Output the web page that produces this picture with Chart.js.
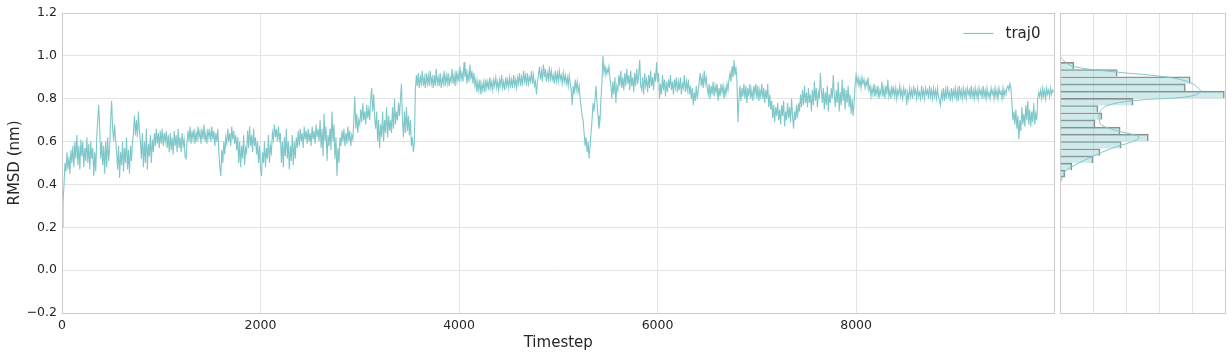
<!DOCTYPE html>
<html><head><meta charset="utf-8">
<script src="https://cdn.jsdelivr.net/npm/chart.js@4"></script>
<style>
html,body{margin:0;padding:0;background:#fff;}
#wrap{position:relative;width:1232px;height:358px;overflow:hidden;}
#main{position:absolute;left:0;top:0;}
#hist{position:absolute;left:1055px;top:0;}
</style></head><body>
<div id="wrap">
<canvas id="main" width="1056" height="358"></canvas>
<canvas id="hist" width="177" height="358"></canvas>
</div>
<script>
// ---- data: RMSD (nm) sampled every STEP timesteps, 500 timesteps per array ----
const STEP = 10;
const rmsd_00 = [0.20,0.31,0.40,0.50,0.46,0.55,0.47,0.53,0.45,0.56, 0.50,0.58,0.48,0.60,0.52,0.63,0.49,0.58,0.47,0.61, 0.53,0.60,0.48,0.57,0.51,0.62,0.50,0.59,0.47,0.60, 0.52,0.57,0.44,0.55,0.46,0.62,0.70,0.77,0.66,0.52, 0.60,0.49,0.58,0.45,0.60,0.48,0.62,0.51,0.57,0.70];
const rmsd_01 = [0.79,0.66,0.60,0.68,0.61,0.55,0.47,0.58,0.43,0.55, 0.49,0.60,0.46,0.57,0.50,0.62,0.47,0.56,0.45,0.58, 0.51,0.60,0.64,0.72,0.63,0.70,0.62,0.74,0.65,0.60, 0.52,0.64,0.48,0.60,0.50,0.66,0.47,0.59,0.53,0.63, 0.50,0.61,0.55,0.64,0.58,0.66,0.59,0.64,0.57,0.65];
const rmsd_02 = [0.59,0.66,0.58,0.64,0.60,0.65,0.57,0.63,0.55,0.64, 0.56,0.62,0.54,0.65,0.58,0.63,0.55,0.66,0.57,0.62, 0.55,0.64,0.58,0.61,0.53,0.52,0.60,0.65,0.60,0.67, 0.59,0.65,0.61,0.66,0.59,0.64,0.60,0.67,0.62,0.65, 0.59,0.66,0.61,0.68,0.60,0.64,0.59,0.66,0.62,0.65];
const rmsd_03 = [0.60,0.67,0.61,0.65,0.58,0.64,0.60,0.66,0.55,0.48, 0.44,0.56,0.50,0.60,0.54,0.62,0.59,0.66,0.60,0.64, 0.58,0.67,0.61,0.65,0.59,0.63,0.56,0.62,0.50,0.60, 0.48,0.58,0.52,0.63,0.49,0.57,0.55,0.65,0.57,0.67, 0.58,0.63,0.55,0.66,0.58,0.62,0.54,0.60,0.50,0.58];
const rmsd_04 = [0.47,0.44,0.55,0.50,0.60,0.48,0.57,0.52,0.63,0.50, 0.58,0.55,0.64,0.61,0.68,0.62,0.66,0.60,0.67,0.61, 0.64,0.50,0.60,0.48,0.62,0.53,0.66,0.52,0.60,0.47, 0.58,0.51,0.63,0.49,0.60,0.52,0.62,0.57,0.65,0.58, 0.66,0.60,0.64,0.57,0.67,0.61,0.65,0.59,0.66,0.60];
const rmsd_05 = [0.64,0.58,0.67,0.61,0.65,0.59,0.68,0.62,0.66,0.60, 0.70,0.57,0.66,0.53,0.73,0.60,0.67,0.51,0.63,0.58, 0.66,0.56,0.74,0.60,0.68,0.52,0.62,0.44,0.57,0.50, 0.62,0.58,0.65,0.60,0.66,0.58,0.64,0.59,0.67,0.60, 0.65,0.58,0.63,0.61,0.70,0.81,0.66,0.73,0.64,0.70];
const rmsd_06 = [0.68,0.75,0.69,0.78,0.70,0.74,0.68,0.77,0.71,0.75, 0.70,0.80,0.85,0.74,0.82,0.71,0.66,0.74,0.60,0.70, 0.57,0.68,0.62,0.74,0.60,0.70,0.64,0.76,0.62,0.72, 0.65,0.70,0.64,0.76,0.66,0.80,0.68,0.74,0.70,0.78, 0.72,0.80,0.87,0.70,0.62,0.74,0.64,0.76,0.65,0.72];
const rmsd_07 = [0.63,0.70,0.58,0.62,0.55,0.60,0.84,0.91,0.86,0.92, 0.85,0.90,0.87,0.93,0.86,0.90,0.85,0.92,0.87,0.91, 0.86,0.93,0.87,0.90,0.85,0.91,0.86,0.94,0.87,0.90, 0.86,0.92,0.85,0.90,0.87,0.93,0.86,0.91,0.87,0.92, 0.86,0.90,0.88,0.94,0.87,0.91,0.86,0.93,0.88,0.92];
const rmsd_08 = [0.88,0.95,0.89,0.92,0.88,0.97,0.90,0.94,0.87,0.92, 0.88,0.96,0.89,0.93,0.87,0.92,0.86,0.89,0.83,0.88, 0.84,0.89,0.82,0.87,0.84,0.88,0.83,0.89,0.85,0.88, 0.84,0.90,0.85,0.88,0.84,0.89,0.86,0.90,0.85,0.88, 0.84,0.89,0.86,0.91,0.85,0.88,0.84,0.90,0.86,0.89];
const rmsd_09 = [0.85,0.90,0.86,0.89,0.85,0.91,0.86,0.89,0.85,0.90, 0.87,0.92,0.86,0.90,0.87,0.93,0.88,0.91,0.86,0.92, 0.87,0.90,0.88,0.93,0.87,0.91,0.86,0.88,0.82,0.88, 0.91,0.95,0.89,0.93,0.88,0.96,0.90,0.94,0.88,0.92, 0.89,0.95,0.88,0.93,0.89,0.91,0.87,0.93,0.88,0.92];
const rmsd_10 = [0.88,0.93,0.89,0.91,0.87,0.92,0.88,0.91,0.87,0.90, 0.86,0.91,0.87,0.84,0.77,0.86,0.82,0.89,0.84,0.88, 0.83,0.86,0.80,0.76,0.72,0.70,0.64,0.58,0.62,0.55, 0.60,0.52,0.58,0.64,0.70,0.78,0.74,0.80,0.86,0.78, 0.72,0.66,0.70,0.80,0.88,1.00,0.92,0.95,0.91,0.94];
const rmsd_11 = [0.92,0.95,0.90,0.86,0.80,0.88,0.82,0.90,0.78,0.86, 0.84,0.91,0.86,0.93,0.85,0.90,0.84,0.92,0.86,0.94, 0.87,0.91,0.84,0.93,0.86,0.90,0.83,0.92,0.86,0.94, 0.87,0.91,0.98,0.86,0.84,0.90,0.82,0.92,0.86,0.89, 0.83,0.91,0.85,0.93,0.86,0.90,0.84,0.92,0.88,0.97];
const rmsd_12 = [0.88,0.92,0.80,0.87,0.82,0.91,0.84,0.89,0.81,0.88, 0.83,0.89,0.85,0.91,0.84,0.88,0.82,0.89,0.85,0.90, 0.83,0.88,0.84,0.90,0.82,0.87,0.85,0.91,0.83,0.88, 0.84,0.89,0.82,0.86,0.80,0.85,0.77,0.83,0.79,0.86, 0.80,0.84,0.88,0.92,0.86,0.90,0.85,0.93,0.87,0.90];
const rmsd_13 = [0.85,0.82,0.87,0.80,0.86,0.82,0.88,0.81,0.86,0.83, 0.87,0.79,0.85,0.81,0.87,0.83,0.86,0.80,0.85,0.82, 0.87,0.84,0.89,0.92,0.88,0.95,0.90,0.98,0.91,0.95, 0.88,0.69,0.80,0.86,0.79,0.85,0.81,0.87,0.80,0.86, 0.78,0.85,0.81,0.87,0.80,0.84,0.79,0.86,0.82,0.87];
const rmsd_14 = [0.80,0.86,0.79,0.84,0.81,0.87,0.80,0.85,0.78,0.84, 0.80,0.87,0.76,0.82,0.75,0.79,0.71,0.77,0.69,0.76, 0.72,0.78,0.70,0.75,0.68,0.77,0.72,0.79,0.67,0.74, 0.70,0.78,0.71,0.76,0.69,0.80,0.72,0.66,0.74,0.70, 0.77,0.71,0.78,0.74,0.82,0.76,0.84,0.77,0.86,0.78];
const rmsd_15 = [0.83,0.76,0.85,0.78,0.82,0.74,0.84,0.77,0.88,0.79, 0.85,0.76,0.83,0.80,0.92,0.84,0.78,0.85,0.75,0.83, 0.77,0.86,0.74,0.82,0.78,0.85,0.80,0.91,0.82,0.76, 0.84,0.78,0.88,0.74,0.83,0.77,0.89,0.79,0.85,0.75, 0.84,0.78,0.86,0.76,0.82,0.73,0.80,0.72,0.78,0.86];
const rmsd_16 = [0.91,0.87,0.90,0.86,0.89,0.85,0.90,0.87,0.89,0.85, 0.88,0.86,0.90,0.84,0.86,0.81,0.85,0.82,0.87,0.81, 0.85,0.82,0.86,0.80,0.84,0.82,0.88,0.81,0.85,0.80, 0.86,0.82,0.89,0.81,0.84,0.80,0.86,0.82,0.85,0.81, 0.85,0.80,0.84,0.82,0.86,0.81,0.84,0.80,0.85,0.82];
const rmsd_17 = [0.84,0.77,0.83,0.80,0.85,0.81,0.84,0.80,0.86,0.82, 0.84,0.80,0.85,0.81,0.83,0.80,0.86,0.81,0.84,0.80, 0.85,0.82,0.84,0.80,0.86,0.81,0.84,0.80,0.85,0.81, 0.84,0.80,0.85,0.81,0.79,0.77,0.83,0.80,0.85,0.79, 0.84,0.80,0.86,0.81,0.83,0.79,0.85,0.80,0.84,0.81];
const rmsd_18 = [0.85,0.80,0.84,0.79,0.86,0.81,0.84,0.80,0.85,0.81, 0.84,0.80,0.85,0.82,0.84,0.80,0.86,0.81,0.84,0.80, 0.85,0.81,0.84,0.80,0.85,0.82,0.84,0.80,0.86,0.81, 0.84,0.80,0.85,0.81,0.83,0.80,0.85,0.82,0.84,0.80, 0.85,0.81,0.84,0.80,0.85,0.82,0.84,0.80,0.85,0.81];
const rmsd_19 = [0.84,0.82,0.85,0.86,0.84,0.87,0.85,0.78,0.70,0.74, 0.68,0.75,0.66,0.72,0.61,0.70,0.65,0.76,0.68,0.73, 0.67,0.77,0.70,0.79,0.68,0.75,0.67,0.74,0.69,0.78, 0.68,0.73,0.70,0.80,0.83,0.81,0.84,0.80,0.85,0.81, 0.84,0.80,0.85,0.82,0.84,0.81,0.85,0.82,0.84,0.83];

// histogram of RMSD (bin centres, nm) and bar lengths (axis units)
const histBins    = [0.953,0.920,0.886,0.853,0.819,0.785,0.752,0.718,0.685,0.651,0.618,0.584,0.550,0.517,0.483,0.450];
const histHeights = [0.42,1.73,3.94,3.79,4.97,2.21,1.15,1.27,1.06,1.82,2.67,1.85,1.21,1.00,0.36,0.15];
// kernel density curve (RMSD value, density in axis units)
const kdeRmsd    = [0.995,0.972,0.949,0.925,0.902,0.879,0.855,0.832,0.809,0.793,0.770,0.739,0.700,0.677,0.653,0.630,0.617,0.599,0.568,0.529,0.490,0.459,0.412];
const kdeDensity = [0.02,0.15,0.45,1.67,3.18,3.89,4.14,4.26,3.84,2.37,1.46,1.21,1.19,1.26,1.67,2.27,2.40,2.17,1.56,0.96,0.45,0.15,0.02];

const xTicks = [0,2000,4000,6000,8000];
const yTicks = [-0.2,0,0.2,0.4,0.6,0.8,1.0,1.2];
const histTicks = [0,1,2,3,4,5];
const seriesLabel = 'traj0';

// ---- styling ----
const GRID = '#e3e3e3', FRAME = '#cbcbcb', TEXT = '#262626', TEAL = 'rgb(127,199,201)';
const FONT = 'DejaVu Sans';

const rmsd = [].concat(rmsd_00,rmsd_01,rmsd_02,rmsd_03,rmsd_04,rmsd_05,rmsd_06,rmsd_07,rmsd_08,rmsd_09,
                       rmsd_10,rmsd_11,rmsd_12,rmsd_13,rmsd_14,rmsd_15,rmsd_16,rmsd_17,rmsd_18,rmsd_19);
const points = rmsd.map((v,i)=>({x:i*STEP, y:v}));

const framePlugin = {id:'frame', afterDraw(c){
  const a=c.chartArea, ctx=c.ctx;
  ctx.save(); ctx.strokeStyle=FRAME; ctx.lineWidth=1;
  const l=Math.floor(a.left)+0.5, t=Math.floor(a.top)+0.5, r=Math.floor(a.right)+0.5, b=Math.floor(a.bottom)+0.5;
  ctx.strokeRect(l,t,r-l,b-t); ctx.restore();
}};
const legendPlugin = {id:'legendBox', afterDraw(c){
  if (c.canvas.id!=='main') return;
  const a=c.chartArea, ctx=c.ctx, ds=c.data.datasets[0];
  ctx.save(); ctx.strokeStyle=ds.borderColor; ctx.lineWidth=1.2;
  ctx.beginPath(); ctx.moveTo(a.right-91,33.5); ctx.lineTo(a.right-61,33.5); ctx.stroke();
  ctx.fillStyle=TEXT; ctx.font='15px "'+FONT+'"'; ctx.textBaseline='middle'; ctx.textAlign='left';
  ctx.fillText(ds.label, a.right-49, 34); ctx.restore();
}};

new Chart(document.getElementById('main'), {
  type:'line',
  data:{datasets:[{label:seriesLabel, data:points, borderColor:TEAL, borderWidth:1.1, pointRadius:0, fill:false, tension:0}]},
  options:{
    responsive:false, animation:false, normalized:true,
    layout:{padding:{left:0,right:1.5,top:13,bottom:0}},
    plugins:{legend:{display:false}, tooltip:{enabled:false}},
    scales:{
      x:{type:'linear', min:0, max:9999,
        afterBuildTicks:s=>{s.ticks=xTicks.map(v=>({value:v}));},
        afterFit:s=>{s.height=45;},
        grid:{color:GRID, drawTicks:false}, border:{display:false},
        ticks:{color:TEXT, font:{family:FONT,size:12.5}, padding:5, maxRotation:0, autoSkip:false, callback:v=>String(v)},
        title:{display:true, text:'Timestep', color:TEXT, font:{family:FONT,size:15}, padding:{top:0,bottom:6}}},
      y:{type:'linear', min:-0.2, max:1.2,
        afterBuildTicks:s=>{s.ticks=yTicks.map(v=>({value:v}));},
        afterFit:s=>{s.width=62;},
        grid:{color:GRID, drawTicks:false}, border:{display:false},
        ticks:{color:TEXT, font:{family:FONT,size:12.5}, padding:5, callback:v=>Number(v).toFixed(1).replace('-','\u2212')},
        title:{display:true, text:'RMSD (nm)', color:TEXT, font:{family:FONT,size:15}, padding:{top:6,bottom:0}}}
    }
  },
  plugins:[framePlugin, legendPlugin]
});

new Chart(document.getElementById('hist'), {
  type:'bar',
  data:{datasets:[
    {type:'line', label:'kde', indexAxis:'y', data:kdeRmsd.map((v,i)=>({x:kdeDensity[i], y:v})), borderColor:TEAL, borderWidth:1, pointRadius:0, tension:0.4, fill:false, order:0},
    {type:'bar', label:'hist', indexAxis:'y', data:histBins.map((v,i)=>({x:histHeights[i], y:v})),
     backgroundColor:'rgba(127,199,201,0.38)', borderColor:'#8c8c8c',
     borderWidth:(ctx)=>({top:1, right:1, left:0, bottom:(ctx.dataIndex===histBins.length-1)?1:0}),
     borderSkipped:false, barPercentage:1, categoryPercentage:1, order:1}
  ]},
  options:{
    indexAxis:'y', responsive:false, animation:false,
    layout:{padding:{left:5,right:6.7,top:13,bottom:0}},
    plugins:{legend:{display:false}, tooltip:{enabled:false}},
    scales:{
      x:{type:'linear', min:0, max:5, offset:false,
        afterBuildTicks:s=>{s.ticks=histTicks.map(v=>({value:v}));},
        afterFit:s=>{s.height=45;},
        grid:{color:GRID, drawTicks:false, offset:false}, border:{display:false}, ticks:{display:false}},
      y:{type:'linear', min:-0.2, max:1.2, offset:false,
        afterBuildTicks:s=>{s.ticks=yTicks.map(v=>({value:v}));},
        afterFit:s=>{s.width=0;},
        grid:{color:GRID, drawTicks:false, offset:false}, border:{display:false}, ticks:{display:false}}
    }
  },
  plugins:[framePlugin]
});
</script>
</body></html>
